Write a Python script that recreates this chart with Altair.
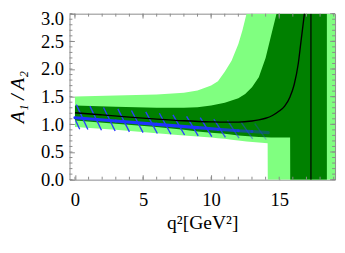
import altair as alt
import pandas as pd

# ---------------- data ----------------
# outer (light green) band
lg_x = [0, 3, 6, 8, 9, 10, 10.5, 11, 11.5, 12, 12.3, 12.6, 14.15, 14.16, 19.5]
lg_lo = [0.95, 0.90, 0.84, 0.80, 0.78, 0.76, 0.75, 0.74, 0.72, 0.71, 0.70, 0.69, 0.66, 0.0, 0.0]
lg_hi = [1.505, 1.52, 1.54, 1.57, 1.61, 1.70, 1.78, 1.95, 2.15, 2.45, 2.70, 3.0, 3.0, 3.0, 3.0]

# inner (dark green) band
dg_x = [0, 3, 6, 8, 9, 10, 11, 12, 12.5, 13, 13.5, 14, 14.4, 14.8, 15.8, 15.81, 18.5]
dg_lo = [1.07, 1.01, 0.95, 0.90, 0.87, 0.85, 0.83, 0.80, 0.79, 0.78, 0.77, 0.765, 0.76, 0.76, 0.76, 0.0, 0.0]
dg_hi = [1.34, 1.32, 1.30, 1.30, 1.31, 1.34, 1.39, 1.47, 1.55, 1.67, 1.85, 2.2, 2.6, 3.0, 3.0, 3.0, 3.0]

# central curve
bk_x = [0, 2, 4, 6, 8, 10, 11, 12, 13, 13.5, 14, 14.5, 15, 15.4, 15.8, 16.1, 16.4, 16.6, 16.8, 16.9]
bk_y = [1.21, 1.17, 1.13, 1.095, 1.065, 1.045, 1.04, 1.04, 1.06, 1.08, 1.11, 1.16, 1.24, 1.33, 1.50, 1.72, 2.10, 2.50, 2.90, 3.10]
pole_x = [17.33]

# blue central line (segments, fading)
bl_x = [0, 3, 6, 9, 10.5, 12, 13, 14.2]
bl_y = [1.12, 1.06, 1.00, 0.94, 0.91, 0.885, 0.87, 0.85]
bl_op = [1, 1, 1, 0.9, 0.75, 0.55, 0.35]

# blue hatched band (hatch strokes)
h_x1 = [0.05, 0.1, 1.1, 2.1, 3.15, 4.15, 5.2, 6.2, 7.2, 8.2, 9.2, 10.2, 11.2, 12.2, 13.2]
h_y1 = [1.07, 1.357, 1.33, 1.305, 1.28, 1.25, 1.225, 1.20, 1.17, 1.145, 1.12, 1.095, 1.07, 1.04, 1.015]
h_x2 = [0.35, 0.95, 1.95, 2.95, 4.0, 5.0, 6.05, 7.05, 8.05, 9.05, 10.05, 11.05, 12.05, 13.05, 14.05]
h_y2 = [0.91, 0.907, 0.893, 0.879, 0.864, 0.85, 0.835, 0.821, 0.807, 0.793, 0.779, 0.765, 0.751, 0.737, 0.723]
h_op = [1, 1, 1, 1, 1, 1, 1, 1, 1, 1, 1, 0.85, 0.6, 0.45, 0.3]

x_major = [0, 5, 10, 15]
x_minor = list(range(0, 20))
y_major = [0.0, 0.5, 1.0, 1.5, 2.0, 2.5, 3.0]
y_minor = [round(i * 0.1, 1) for i in range(0, 31)]

# ---------------- tables ----------------
lg = pd.DataFrame({"x": lg_x, "lo": lg_lo, "hi": lg_hi})
dg = pd.DataFrame({"x": dg_x, "lo": dg_lo, "hi": dg_hi})
bk = pd.DataFrame({"x": bk_x, "y": bk_y})
pole = pd.DataFrame({"x": pole_x})
bl = pd.DataFrame({"x": bl_x[:-1], "y": bl_y[:-1], "x2": bl_x[1:], "y2": bl_y[1:], "op": bl_op})
hat = pd.DataFrame({"x": h_x1, "y": h_y1, "x2": h_x2, "y2": h_y2, "op": h_op})
xmin_df = pd.DataFrame({"x": x_minor})
ymin_df = pd.DataFrame({"y": y_minor})
xmaj_df = pd.DataFrame({"x": x_major})
ymaj_df = pd.DataFrame({"y": y_major})

FONT = "Liberation Serif"
W, H = 272, 170
XS = alt.Scale(domain=[-0.4, 19.1], nice=False, zero=False)
YS = alt.Scale(domain=[0, 3], nice=False, zero=False)
TICK = "#8a8a8a"
LBL = dict(labelFont=FONT, labelFontSize=19, labelColor="black", labelOverlap=False, labelFlush=False,
           titleFont=FONT, titleFontSize=20, titleFontWeight="normal", titleColor="black",
           tickColor=TICK, tickWidth=1, domain=False, grid=False)

xaxis = alt.Axis(values=x_major, tickSize=5, offset=-5, labelPadding=11,
                 title="q²[GeV²]", titlePadding=4, **LBL)
yaxis = alt.Axis(values=y_major, tickSize=5, offset=-5, format=".1f", labelPadding=6,
                 labelOffset={"condition": {"test": "datum.value >= 3", "value": 5}, "value": 0},
                 title="A₁ / A₂", titlePadding=13, titleFontStyle="italic", **LBL)


def X(f):
    return alt.X(f, scale=XS, axis=None)


def Y(f):
    return alt.Y(f, scale=YS, axis=None)


light = alt.Chart(lg).mark_area(color="#80ff80", clip=True).encode(
    x=alt.X("x:Q", scale=XS, axis=xaxis),
    y=alt.Y("lo:Q", scale=YS, axis=yaxis),
    y2="hi:Q",
)

dark = alt.Chart(dg).mark_area(color="#008000", clip=True).encode(
    x=X("x:Q"), y=Y("lo:Q"), y2="hi:Q",
)

hatch = alt.Chart(hat).mark_rule(color="#2a3cff", strokeWidth=1.4, clip=True).encode(
    x=X("x:Q"), y=Y("y:Q"), x2="x2:Q", y2="y2:Q",
    opacity=alt.Opacity("op:Q", scale=None, legend=None),
)

blue = alt.Chart(bl).mark_rule(color="#1f32ff", strokeWidth=3.2, strokeCap="round", clip=True).encode(
    x=X("x:Q"), y=Y("y:Q"), x2="x2:Q", y2="y2:Q",
    opacity=alt.Opacity("op:Q", scale=None, legend=None),
)

curve = alt.Chart(bk).mark_line(color="black", strokeWidth=1.4, interpolate="monotone", clip=True).encode(
    x=X("x:Q"), y=Y("y:Q"),
)

vline = alt.Chart(pole).mark_rule(color="black", strokeWidth=1.2, clip=True).encode(
    x=X("x:Q"),
)

# frame ticks (minor on bottom/left, all on top/right), drawn inward
tk = dict(color=TICK, strokeWidth=1)
xmin_b = alt.Chart(xmin_df).mark_rule(**tk).encode(x=X("x:Q"), y=alt.value(H), y2=alt.value(H - 3))
xmin_t = alt.Chart(xmin_df).mark_rule(**tk).encode(x=X("x:Q"), y=alt.value(0), y2=alt.value(3))
xmaj_t = alt.Chart(xmaj_df).mark_rule(**tk).encode(x=X("x:Q"), y=alt.value(0), y2=alt.value(5))
ymin_l = alt.Chart(ymin_df).mark_rule(**tk).encode(y=Y("y:Q"), x=alt.value(0), x2=alt.value(3))
ymin_r = alt.Chart(ymin_df).mark_rule(**tk).encode(y=Y("y:Q"), x=alt.value(W), x2=alt.value(W - 3))
ymaj_r = alt.Chart(ymaj_df).mark_rule(**tk).encode(y=Y("y:Q"), x=alt.value(W), x2=alt.value(W - 5))

chart = alt.layer(
    light, dark, hatch, blue, curve, vline, xmin_b, xmin_t, xmaj_t, ymin_l, ymin_r, ymaj_r
).resolve_axis(
    x="independent", y="independent"
).properties(
    width=W,
    height=H,
    autosize=alt.AutoSizeParams(type="none"),
    padding={"left": 63, "top": 3, "right": 2, "bottom": 60},
).configure_view(stroke=TICK, strokeWidth=1)

chart.save("out.html", embed_options={"renderer": "svg", "actions": False})
